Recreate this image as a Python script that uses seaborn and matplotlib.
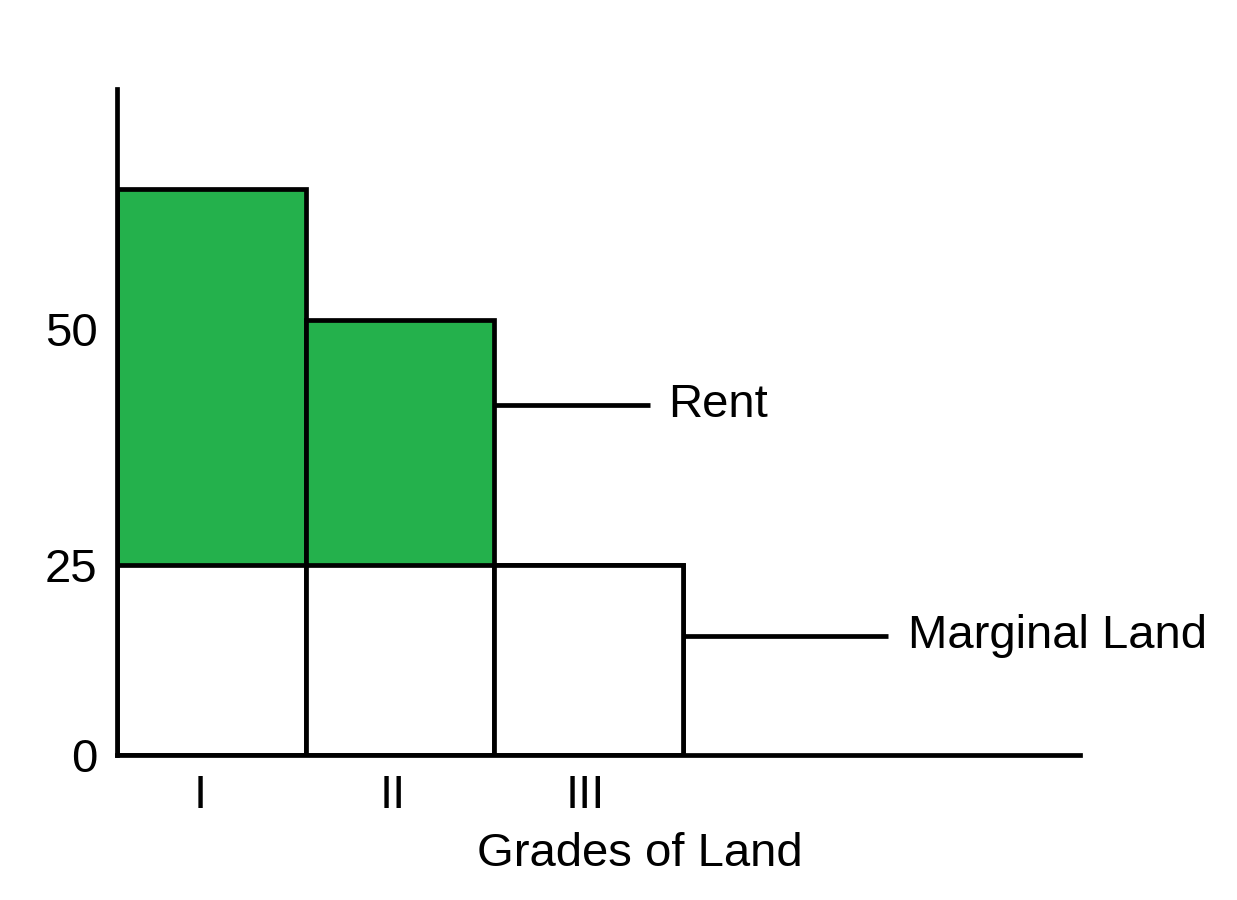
import matplotlib
matplotlib.use("Agg")
import matplotlib.pyplot as plt
import seaborn as sns
import pandas as pd

# ---- data ----
grades = ["I", "II", "III"]
total_produce = [74.5, 57.2, 25.0]     # bar tops (schematic units)
marginal_cost = [25.0, 25.0, 25.0]     # marginal land level
ytick_values = [0, 25, 56]
ytick_labels = ["0", "25", "50"]
rent_label = "Rent"
marginal_label = "Marginal Land"
xlabel = "Grades of Land"

GREEN = "#24B14C"
LW = 3.4
FS = 34

sns.set_theme(style="white")
plt.rcParams["font.family"] = ["Liberation Sans", "DejaVu Sans"]

df = pd.DataFrame({"grade": grades, "total": total_produce, "marginal": marginal_cost})

fig = plt.figure(figsize=(12.37, 9), dpi=100)
ax = fig.add_axes([117 / 1237, 145 / 900, (1080 - 117) / 1237, (755 - 89) / 900])

sns.barplot(data=df, x="grade", y="total", color=GREEN, saturation=1,
            edgecolor="black", linewidth=LW, width=1, errorbar=None, ax=ax)
sns.barplot(data=df, x="grade", y="marginal", color="white", saturation=1,
            edgecolor="black", linewidth=LW, width=1, errorbar=None, ax=ax)

ax.set_xlim(-0.5, 4.603)
ax.set_ylim(0, 87.6)

# annotation leaders
ax.plot([1.5, 2.325], [46.0, 46.0], color="black", lw=LW, solid_capstyle="butt")
ax.text(2.42, 46.0, rent_label, fontsize=FS, va="center", ha="left", color="black")
ax.plot([2.5, 3.586], [15.7, 15.7], color="black", lw=LW, solid_capstyle="butt")
ax.text(3.69, 15.7, marginal_label, fontsize=FS, va="center", ha="left", color="black")

ax.set_yticks(ytick_values)
ax.set_yticklabels(ytick_labels)
ax.set_xticks([-0.06, 0.96, 1.98])
ax.set_xticklabels(grades)
ax.tick_params(axis="both", length=0, labelsize=FS, colors="black")
ax.tick_params(axis="y", pad=14)
ax.tick_params(axis="x", pad=14)

ax.set_ylabel("")
ax.set_xlabel(xlabel, fontsize=FS, color="black", labelpad=10)
ax.xaxis.label.set_x(0.543)

for s in ["top", "right"]:
    ax.spines[s].set_visible(False)
for s in ["left", "bottom"]:
    ax.spines[s].set_color("black")
    ax.spines[s].set_linewidth(LW)
    ax.spines[s].set_zorder(5)

fig.savefig("out.png", dpi=100, facecolor="white")
